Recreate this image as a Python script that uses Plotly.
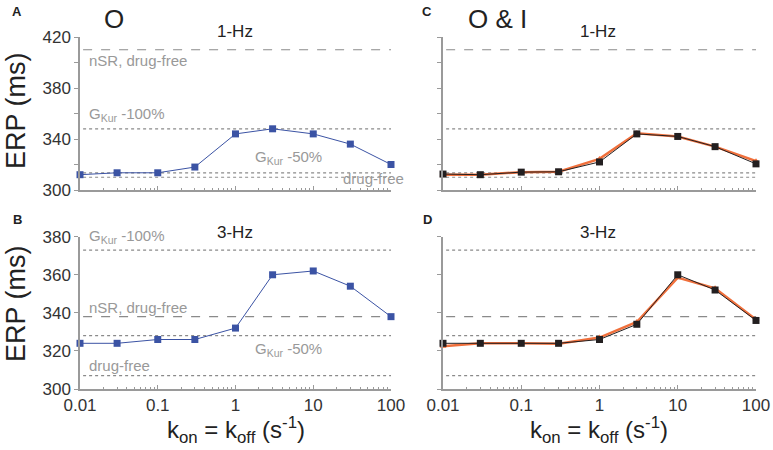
import plotly.graph_objects as go

# ---- data ----
k_rates = [0.01, 0.03, 0.1, 0.3, 1, 3, 10, 30, 100]

erp_O_1hz = [312, 313.5, 313.5, 318, 344, 348, 344, 336, 320]
erp_O_3hz = [324, 324, 326, 326, 332, 360, 362, 354, 338]

erp_OI_1hz_black = [312.5, 312, 314, 314.3, 322, 344, 342, 334, 320.5]
erp_OI_1hz_orange = [312, 312, 314, 314.3, 324.4, 344.5, 342, 334, 322.6]
erp_OI_3hz_black = [324, 324, 324, 324, 326, 334, 360, 352, 336]
erp_OI_3hz_orange = [322.4, 324, 324, 323.8, 327, 335.2, 358.5, 352.9, 336.5]

# reference levels
ref_1hz = {"nSR": 410, "gkur100": 348, "gkur50": 313.5, "drugfree": 310}
ref_3hz = {"nSR": 338, "gkur100": 373, "gkur50": 328, "drugfree": 307}

x_tick_vals = [0.01, 0.1, 1, 10, 100]
x_tick_text = ["0.01", "0.1", "1", "10", "100"]
y1_tick_vals = [300, 320, 340, 360, 380, 400, 420]
y1_tick_text = ["300", "", "340", "", "380", "", "420"]
y3_tick_vals = [300, 320, 340, 360, 380]
y3_tick_text = ["300", "320", "340", "360", "380"]

FONT = "Liberation Sans, Arial, sans-serif"
BLUE = "#3b53a4"
BLACK = "#231f20"
ORANGE = "#f0703c"
GRAY = "#999999"
AX = "#9a9a9a"

minor_vals = [m * 10 ** e for e in range(-2, 2) for m in range(2, 10)]

W, H = 773, 450
xdA = [80 / W, 391 / W]
xdC = [443 / W, 756 / W]
ydTop = [1 - 190 / H, 1 - 37 / H]
ydBot = [1 - 389 / H, 1 - 236.7 / H]

fig = go.Figure()

# Panel A
fig.add_trace(go.Scatter(x=k_rates, y=erp_O_1hz, xaxis="x", yaxis="y", mode="lines+markers",
                         line=dict(color=BLUE, width=1), marker=dict(symbol="square", size=7, color=BLUE),
                         cliponaxis=False))
# Panel B
fig.add_trace(go.Scatter(x=k_rates, y=erp_O_3hz, xaxis="x2", yaxis="y2", mode="lines+markers",
                         line=dict(color=BLUE, width=1), marker=dict(symbol="square", size=7, color=BLUE),
                         cliponaxis=False))
# Panel C
fig.add_trace(go.Scatter(x=k_rates, y=erp_OI_1hz_orange, xaxis="x3", yaxis="y3", mode="lines+markers",
                         line=dict(color=ORANGE, width=2.5), marker=dict(symbol="triangle-up", size=6, color=ORANGE),
                         cliponaxis=False))
fig.add_trace(go.Scatter(x=k_rates, y=erp_OI_1hz_black, xaxis="x3", yaxis="y3", mode="lines+markers",
                         line=dict(color=BLACK, width=1), marker=dict(symbol="square", size=7, color=BLACK),
                         cliponaxis=False))
# Panel D
fig.add_trace(go.Scatter(x=k_rates, y=erp_OI_3hz_orange, xaxis="x4", yaxis="y4", mode="lines+markers",
                         line=dict(color=ORANGE, width=2.5), marker=dict(symbol="triangle-up", size=6, color=ORANGE),
                         cliponaxis=False))
fig.add_trace(go.Scatter(x=k_rates, y=erp_OI_3hz_black, xaxis="x4", yaxis="y4", mode="lines+markers",
                         line=dict(color=BLACK, width=1), marker=dict(symbol="square", size=7, color=BLACK),
                         cliponaxis=False))

# reference lines
def add_refs(xa, ya, refs):
    for key, val in refs.items():
        dash = "dash" if key == "nSR" else "dot"
        fig.add_shape(type="line", xref=f"{xa} domain", x0=0.01, x1=1, yref=ya, y0=val, y1=val,
                      line=dict(color="#8a8a8a", width=1.2, dash=dash), layer="below")

add_refs("x", "y", ref_1hz)
add_refs("x2", "y2", ref_3hz)
add_refs("x3", "y3", ref_1hz)
add_refs("x4", "y4", ref_3hz)

def xaxis(domain, anchor, labels):
    return dict(domain=domain, anchor=anchor, type="log", range=[-2, 2], automargin=False,
                tickvals=x_tick_vals, ticktext=x_tick_text if labels else [""] * 5,
                showticklabels=labels, ticks="inside", ticklen=4, tickcolor=AX,
                showline=True, linecolor=AX, linewidth=1.5, showgrid=False, zeroline=False,
                minor=dict(tickvals=minor_vals, ticks="inside", ticklen=2, tickcolor=AX, showgrid=False),
                tickfont=dict(family=FONT, size=17, color="#333333"))

def yaxis(domain, anchor, rng, vals, text, labels):
    return dict(domain=domain, anchor=anchor, range=rng, tickvals=vals, ticktext=text, automargin=False,
                showticklabels=labels, ticks="outside", ticklen=4, tickcolor=AX,
                showline=True, linecolor=AX, linewidth=1.5, showgrid=False, zeroline=False,
                tickfont=dict(family=FONT, size=17, color="#333333"))

fig.update_layout(
    template="none",
    width=W, height=H, margin=dict(l=0, r=0, t=0, b=0, pad=0), autosize=False,
    paper_bgcolor="white", plot_bgcolor="white", showlegend=False,
    font=dict(family=FONT),
    xaxis=xaxis(xdA, "y", False),
    yaxis=yaxis(ydTop, "x", [300, 420], y1_tick_vals, y1_tick_text, True),
    xaxis2=xaxis(xdA, "y2", True),
    yaxis2=yaxis(ydBot, "x2", [300, 380], y3_tick_vals, y3_tick_text, True),
    xaxis3=xaxis(xdC, "y3", False),
    yaxis3=yaxis(ydTop, "x3", [300, 420], y1_tick_vals, y1_tick_text, False),
    xaxis4=xaxis(xdC, "y4", True),
    yaxis4=yaxis(ydBot, "x4", [300, 380], y3_tick_vals, y3_tick_text, False),
)

def ann(x, y, text, size, color="#222222", xanchor="center", yanchor="middle", angle=0):
    fig.add_annotation(x=x / W, y=1 - y / H, xref="paper", yref="paper", text=text, showarrow=False,
                       font=dict(family=FONT, size=size, color=color), xanchor=xanchor, yanchor=yanchor,
                       textangle=angle)

# panel letters and titles
ann(17, 11, "<b>A</b>", 13)
ann(17, 219, "<b>B</b>", 13)
ann(427, 11, "<b>C</b>", 13)
ann(427, 219, "<b>D</b>", 13)
ann(114, 19, "O", 26)
ann(497, 19, "O &amp; I", 26)
ann(235, 31, "1-Hz", 17)
ann(235, 232, "3-Hz", 17)
ann(598, 31, "1-Hz", 17)
ann(598, 232, "3-Hz", 17)

# y axis titles
ann(16, 111, "ERP (ms)", 27, angle=-90)
ann(16, 304, "ERP (ms)", 27, angle=-90)

# x axis titles
xt = "k<sub>on</sub> = k<sub>off</sub> (s<sup>-1</sup>)"
ann(236, 430, xt, 24)
ann(599, 430, xt, 24)

# reference annotations
ann(87, 61, "nSR, drug-free", 15, GRAY, xanchor="left")
ann(87, 114, "G<sub>Kur</sub> -100%", 15, GRAY, xanchor="left")
ann(253, 157, "G<sub>Kur</sub> -50%", 15, GRAY, xanchor="left")
ann(406, 178, "drug-free", 15, GRAY, xanchor="right")

ann(87, 237, "G<sub>Kur</sub> -100%", 15, GRAY, xanchor="left")
ann(87, 307, "nSR, drug-free", 15, GRAY, xanchor="left")
ann(253, 349, "G<sub>Kur</sub> -50%", 15, GRAY, xanchor="left")
ann(87, 365, "drug-free", 15, GRAY, xanchor="left")

fig.write_html("out.html", config={"displayModeBar": False},
               post_script="document.body.style.margin='0';document.body.style.padding='0';")
